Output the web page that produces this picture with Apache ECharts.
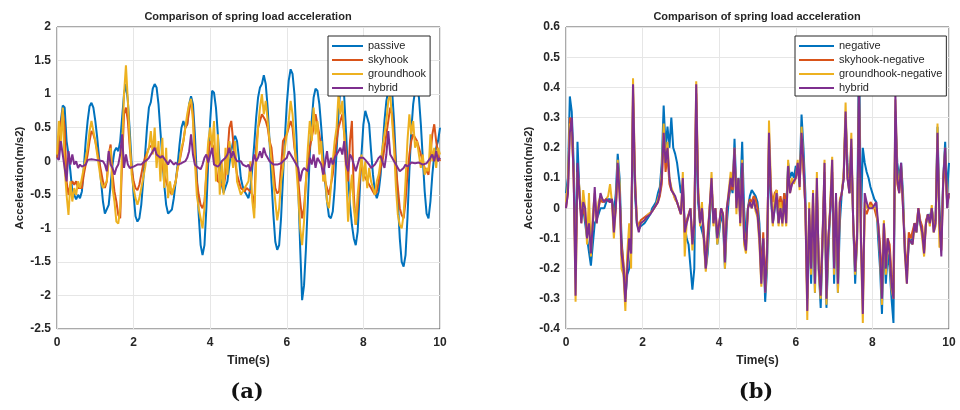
<!DOCTYPE html>
<html style="height: 100%; margin: 0;">
<head>
<meta charset="utf-8" />
<title>spring load acceleration</title>
<script src="https://cdn.jsdelivr.net/npm/echarts/dist/echarts.min.js"></script>
</head>
<body style="height: 100%; margin: 0; background: #fff;">
<div id="main" style="width: 960px; height: 410px;"></div>
<script type="text/javascript">
// sample step of the read-off curves (s), 0..10 s
var dt = 0.05;

// (a) left panel
var passive = [
  0.05,0.2,0.6,0.83,0.8,0.3,0.1,-0.15,-0.45,-0.5,-0.57,-0.5,-0.55,-0.45,-0.1,0.3,0.6,0.82,0.87,0.8,
  0.6,0.35,0.05,-0.3,-0.6,-0.78,-0.8,-0.65,-0.35,-0.05,0.15,0.2,0.15,0.3,0.65,1.0,1.15,0.9,0.45,-0.05,
  -0.5,-0.82,-0.9,-0.85,-0.65,-0.3,0.1,0.5,0.8,0.88,1.08,1.15,1.1,0.85,0.45,0.05,-0.35,-0.65,-0.78,-0.8,
  -0.72,-0.55,-0.3,-0.05,0.25,0.5,0.6,0.5,0.55,0.85,0.97,0.85,0.4,-0.2,-0.8,-1.25,-1.4,-1.25,-0.7,0.0,
  0.6,1.05,1.02,0.8,0.4,-0.05,-0.35,-0.47,-0.45,-0.3,-0.05,0.15,0.3,0.38,0.3,0.05,-0.25,-0.38,-0.45,-0.5,
  -0.55,-0.4,-0.1,0.25,0.65,0.95,1.1,1.15,1.28,1.15,0.8,0.3,-0.3,-0.8,-1.2,-1.32,-1.25,-0.85,-0.25,0.35,
  0.85,1.2,1.37,1.3,1.0,0.4,-0.4,-1.3,-2.07,-1.85,-1.3,-0.6,0.1,0.6,0.95,1.08,1.05,0.85,0.5,0.1,
  -0.3,-0.6,-0.82,-0.85,-0.75,-0.4,0.15,0.7,1.1,1.2,0.95,0.4,-0.2,-0.65,-0.95,-1.15,-1.25,-1.05,-0.5,0.1,
  0.55,0.75,0.77,0.55,0.15,-0.2,-0.45,-0.55,-0.45,-0.2,0.2,0.6,0.9,1.05,1.1,1.05,0.6,0.0,-0.6,-1.15,
  -1.5,-1.57,-1.4,-0.85,-0.15,0.45,0.85,1.05,1.1,0.95,0.55,0.05,-0.45,-0.78,-0.85,-0.6,-0.2,0.1,0.2,0.3,
  0.5
];
var skyhook = [
  0.05,0.2,0.55,0.75,0.5,-0.3,-0.5,-0.35,-0.3,-0.35,-0.3,-0.4,-0.38,-0.4,-0.2,-0.05,0.1,0.3,0.45,0.4,
  0.3,0.15,0.0,-0.15,-0.3,-0.4,-0.3,0.1,0.25,-0.2,-0.45,-0.6,-0.8,-0.85,0.0,0.7,0.8,0.6,0.2,-0.1,
  -0.3,-0.4,-0.43,-0.35,-0.2,-0.05,0.05,0.12,0.2,0.22,0.25,0.22,0.2,0.12,0.05,-0.05,-0.2,-0.3,-0.4,-0.45,
  -0.5,-0.4,-0.3,-0.1,0.0,0.15,0.3,0.5,0.55,0.75,0.9,0.7,0.1,-0.3,-0.5,-0.65,-0.7,-0.6,-0.2,0.1,
  0.3,0.25,0.2,-0.1,-0.3,-0.32,-0.35,-0.4,-0.2,0.1,0.5,0.6,0.3,0.0,-0.2,-0.3,-0.4,-0.42,-0.45,-0.4,
  -0.4,-0.45,-0.5,-0.7,0.2,0.5,0.6,0.7,0.65,0.6,0.5,0.3,0.2,-0.1,-0.4,-0.48,-0.45,-0.1,0.3,0.35,
  0.4,0.5,0.6,0.5,0.2,0.0,-0.3,-0.6,-0.85,-0.7,-0.3,0.0,0.2,0.35,0.5,0.7,0.55,0.4,0.2,-0.05,
  -0.3,-0.4,-0.5,-0.35,-0.2,0.1,0.3,0.5,0.6,0.7,0.4,0.1,-0.3,0.3,0.6,-0.5,-0.95,-0.7,-0.3,0.0,
  -0.2,-0.25,-0.3,-0.35,-0.4,-0.45,-0.5,-0.45,-0.3,-0.1,0.0,0.2,0.4,0.6,0.8,0.7,0.3,-0.1,-0.4,-0.7,
  -0.8,-0.85,-0.6,-0.2,0.1,0.3,0.4,0.35,0.3,0.2,0.1,0.0,-0.1,-0.15,-0.2,0.1,0.4,0.55,0.3,0.1,
  0.0
];
var groundhook = [
  0.1,0.6,0.3,0.8,-0.1,-0.5,-0.8,-0.3,-0.6,-0.4,-0.5,-0.3,-0.4,-0.25,-0.1,0.05,0.2,0.45,0.6,0.45,
  0.3,0.1,-0.1,-0.3,-0.4,-0.35,-0.3,0.0,0.2,-0.4,-0.6,-0.9,-0.93,-0.7,0.2,1.0,1.43,0.9,0.3,-0.2,
  -0.4,-0.55,-0.65,-0.55,-0.4,-0.25,-0.1,0.1,0.2,0.45,0.1,0.5,-0.1,0.3,-0.3,0.35,-0.4,0.2,-0.55,-0.3,
  -0.5,-0.4,-0.3,-0.1,0.0,0.2,0.3,0.5,0.7,0.85,0.93,0.6,0.0,-0.5,-0.7,-0.85,-1.0,-0.7,-0.1,0.3,
  0.5,0.2,0.6,-0.3,0.4,-0.5,0.0,-0.5,0.2,-0.2,0.3,0.1,-0.1,0.3,-0.3,-0.4,-0.5,-0.45,-0.4,-0.35,
  -0.3,0.0,-0.6,-0.85,0.0,0.5,0.8,1.0,0.7,0.9,0.6,0.3,0.0,-0.3,-0.6,-0.88,-0.7,-0.3,-0.1,0.2,
  0.4,0.6,0.9,0.7,0.3,-0.1,-0.5,-1.0,-1.25,-0.9,-0.3,0.2,0.6,0.3,0.8,0.4,0.6,0.1,0.3,-0.3,
  -0.2,-0.6,-0.7,-0.4,0.0,0.3,0.5,1.0,0.7,0.9,0.4,-0.2,-0.9,-0.5,-0.2,-0.7,-0.95,-0.5,-0.2,0.1,
  -0.3,0.0,-0.4,-0.1,-0.3,-0.4,-0.5,-0.3,-0.2,0.0,0.2,0.4,0.6,0.9,1.0,0.6,0.2,-0.4,-0.8,-0.95,
  -1.0,-0.8,-0.3,0.3,0.7,0.4,0.6,0.2,0.3,0.1,-0.1,0.1,-0.2,-0.1,-0.15,0.4,0.0,0.2,-0.1,0.2,
  0.1
];
var hybridA = [
  0.05,0.02,0.3,0.1,-0.1,-0.3,0.15,-0.05,0.1,-0.05,0.0,-0.1,-0.05,-0.08,-0.1,-0.05,0.02,0.0,0.03,0.02,
  0.02,0.03,0.01,0.03,0.0,-0.05,-0.15,0.15,-0.05,-0.1,-0.2,-0.1,-0.05,0.1,0.4,-0.1,0.1,-0.05,-0.1,-0.08,
  -0.08,-0.06,-0.05,-0.04,-0.05,-0.02,0.0,0.02,0.05,0.1,0.15,0.2,0.1,0.12,0.05,0.08,0.1,0.0,-0.05,0.02,
  0.0,-0.05,-0.02,-0.05,-0.05,-0.03,-0.02,0.0,0.05,0.15,0.4,0.1,-0.05,-0.08,-0.1,-0.12,-0.05,0.05,0.1,-0.02,
  0.0,0.2,-0.05,-0.03,-0.08,-0.05,0.0,0.02,0.05,0.1,0.2,0.05,0.15,0.05,0.0,-0.02,0.0,-0.05,-0.05,-0.08,
  -0.05,-0.15,-0.05,0.1,0.0,0.05,0.15,0.05,0.2,0.1,0.05,0.0,-0.02,-0.05,-0.03,-0.05,-0.05,-0.03,0.0,0.02,
  0.05,0.15,0.1,0.05,0.05,-0.05,-0.1,-0.3,-0.15,-0.1,-0.1,-0.15,0.05,-0.05,0.1,-0.1,0.05,0.0,-0.05,-0.2,
  -0.2,0.15,-0.1,0.05,-0.05,0.05,0.1,0.15,0.2,0.1,0.3,-0.05,-0.15,0.1,0.05,-0.05,-0.15,-0.05,0.05,0.03,
  0.05,0.02,0.0,-0.05,-0.1,-0.08,-0.05,0.0,0.05,0.08,0.1,-0.1,0.1,0.45,0.1,0.05,0.0,-0.05,-0.1,-0.15,
  -0.15,-0.1,-0.05,-0.08,-0.05,-0.02,0.0,-0.03,-0.05,-0.02,0.0,-0.05,-0.05,-0.03,-0.02,0.05,0.1,0.0,0.15,0.0,
  0.05
];

// (b) right panel
var negative = [
  0.05,0.1,0.37,0.32,0.15,-0.2,0.22,0.05,-0.02,0.0,-0.05,-0.1,-0.1,-0.19,-0.12,-0.05,-0.05,-0.02,0.0,0.0,
  0.0,0.02,0.03,0.03,0.03,-0.02,0.05,0.18,0.1,-0.1,-0.2,-0.3,-0.22,-0.2,-0.15,0.35,0.05,-0.05,-0.07,-0.06,
  -0.06,-0.05,-0.04,-0.03,-0.02,0.0,0.01,0.02,0.05,0.07,0.15,0.34,0.2,0.27,0.2,0.3,0.2,0.18,0.15,0.1,
  0.05,0.08,-0.05,-0.1,-0.12,-0.12,-0.27,-0.2,0.35,0.02,-0.05,-0.05,-0.1,-0.2,-0.15,-0.05,0.08,-0.05,-0.02,-0.12,
  -0.08,-0.02,-0.05,-0.2,-0.05,0.03,0.08,0.05,0.23,0.05,0.1,0.05,0.22,0.0,-0.1,0.0,0.04,0.06,0.05,0.04,
  0.02,-0.05,-0.2,-0.1,-0.31,-0.2,0.2,0.03,-0.05,0.0,0.03,-0.05,0.0,-0.03,0.05,0.0,0.15,0.1,0.12,0.1,
  0.14,0.12,0.1,0.31,0.2,0.05,-0.3,-0.05,-0.25,0.0,-0.28,0.05,-0.2,-0.33,-0.1,0.1,-0.33,-0.15,0.0,0.1,
  -0.25,0.0,-0.28,-0.05,0.05,0.1,0.3,0.15,0.05,0.2,-0.05,-0.25,-0.1,0.57,-0.05,0.2,0.15,0.12,0.1,0.07,
  0.05,0.03,0.02,-0.1,-0.2,-0.35,-0.1,-0.25,-0.15,-0.2,-0.3,-0.38,0.3,0.15,0.1,0.15,0.05,-0.15,-0.2,-0.12,
  -0.12,-0.1,-0.05,-0.08,-0.02,-0.05,-0.08,-0.12,-0.05,-0.02,-0.03,0.0,-0.05,-0.04,0.27,0.0,-0.1,0.1,0.22,0.05,
  0.15
];
var skyhookNeg = [
  0.0,0.05,0.3,0.28,0.1,-0.2,0.1,0.05,-0.03,0.0,-0.03,-0.08,-0.06,-0.12,-0.05,0.03,-0.03,0.0,0.03,0.02,
  0.02,0.03,0.03,0.02,0.03,-0.05,0.0,0.12,0.05,-0.12,-0.18,-0.28,-0.18,-0.1,-0.12,0.38,0.08,-0.04,-0.06,-0.04,
  -0.04,-0.03,-0.03,-0.02,-0.02,-0.01,0.0,0.01,0.02,0.04,0.08,0.25,0.12,0.18,0.08,0.06,0.05,0.03,0.02,0.0,
  -0.02,0.06,-0.06,-0.04,-0.04,0.0,-0.1,-0.05,0.38,0.05,-0.04,0.0,-0.08,-0.18,-0.08,0.0,0.08,-0.04,0.0,-0.08,
  -0.05,0.0,-0.02,-0.16,0.0,0.04,0.08,0.06,0.18,0.02,0.08,-0.03,0.12,-0.08,-0.12,0.0,0.03,0.02,0.04,0.03,
  0.0,-0.08,-0.22,-0.08,-0.26,-0.12,0.22,0.06,0.02,0.05,0.06,0.0,0.04,0.0,0.05,0.0,0.12,0.06,0.08,0.08,
  0.1,0.14,0.08,0.22,0.12,0.0,-0.3,-0.02,-0.18,0.02,-0.2,0.06,-0.18,-0.25,-0.08,0.12,-0.26,-0.1,0.0,0.12,
  -0.18,0.03,-0.22,0.02,0.05,0.1,0.3,0.1,0.05,0.2,-0.05,-0.18,-0.08,0.35,-0.08,-0.3,0.0,-0.02,0.0,0.02,
  0.01,0.0,0.0,-0.05,-0.12,-0.25,-0.05,-0.18,-0.1,-0.12,-0.22,-0.28,0.32,0.08,0.05,0.12,0.0,-0.12,-0.22,-0.08,
  -0.1,-0.1,-0.05,-0.06,0.0,-0.04,-0.06,-0.14,-0.04,-0.02,-0.04,0.0,-0.06,-0.04,0.22,-0.04,-0.14,0.08,0.15,0.02,
  0.04
];
var groundhookNeg = [
  0.02,0.08,0.28,0.25,0.12,-0.31,0.12,0.07,-0.05,0.06,0.0,-0.12,0.05,-0.16,-0.02,0.05,-0.05,0.02,0.04,0.03,
  0.02,0.03,0.04,0.08,0.02,-0.1,0.0,0.16,0.08,-0.2,-0.22,-0.34,-0.15,-0.05,-0.2,0.43,0.12,-0.04,-0.07,-0.05,
  -0.05,-0.04,-0.03,-0.02,-0.02,-0.01,0.0,0.01,0.03,0.05,0.12,0.28,0.15,0.22,0.1,0.07,0.05,0.03,0.02,0.0,
  -0.02,0.12,-0.16,-0.05,-0.05,0.0,-0.14,-0.05,0.42,0.08,-0.06,0.02,-0.12,-0.21,-0.12,0.0,0.12,-0.06,0.0,-0.12,
  -0.06,0.0,-0.02,-0.2,0.0,0.06,0.12,0.08,0.2,-0.02,0.1,-0.06,0.16,-0.12,-0.15,0.0,0.02,0.0,0.03,-0.01,
  -0.03,-0.12,-0.26,-0.12,-0.28,-0.18,0.29,0.08,-0.06,0.04,0.06,-0.06,0.02,-0.06,0.03,-0.06,0.16,0.05,0.1,0.08,
  0.1,0.16,0.06,0.27,0.15,0.0,-0.37,0.02,-0.22,0.06,-0.28,0.12,-0.22,-0.3,-0.12,0.16,-0.32,-0.12,0.02,0.17,
  -0.22,0.04,-0.28,0.03,0.05,0.12,0.35,0.12,0.06,0.25,-0.06,-0.22,-0.12,0.4,-0.12,-0.38,0.02,0.0,0.0,0.01,
  0.0,0.0,0.0,-0.06,-0.16,-0.32,-0.04,-0.22,-0.12,-0.15,-0.27,-0.3,0.36,0.12,0.06,0.14,0.02,-0.16,-0.25,-0.1,
  -0.1,-0.12,-0.06,-0.08,0.0,-0.05,-0.1,-0.16,-0.05,-0.02,-0.06,0.01,-0.08,-0.06,0.28,-0.13,-0.12,0.1,0.2,0.02,
  0.05
];
var hybridB = [
  0.0,0.05,0.25,0.3,0.1,-0.29,0.15,0.05,-0.05,0.02,0.0,-0.1,-0.05,-0.15,-0.05,0.07,-0.05,0.0,0.05,0.03,
  0.02,0.03,0.03,0.02,0.03,-0.08,0.0,0.15,0.05,-0.15,-0.2,-0.31,-0.2,-0.1,-0.15,0.41,0.1,-0.05,-0.08,-0.05,
  -0.05,-0.04,-0.03,-0.03,-0.02,-0.01,0.0,0.01,0.02,0.05,0.1,0.25,0.15,0.2,0.1,0.06,0.05,0.04,0.02,0.0,
  -0.02,0.1,-0.08,-0.05,-0.05,0.0,-0.12,-0.05,0.41,0.05,-0.05,0.0,-0.1,-0.2,-0.1,0.0,0.1,-0.05,0.0,-0.1,
  -0.05,0.0,-0.02,-0.18,0.0,0.05,0.1,0.07,0.2,0.0,0.1,-0.05,0.15,-0.1,-0.14,0.0,0.02,0.0,0.03,0.0,
  -0.02,-0.1,-0.25,-0.1,-0.28,-0.15,0.25,0.05,-0.05,0.0,0.05,-0.05,0.0,-0.05,0.03,-0.05,0.14,0.05,0.08,0.08,
  0.1,0.15,0.07,0.25,0.15,0.0,-0.34,0.0,-0.2,0.05,-0.25,0.1,-0.2,-0.29,-0.1,0.15,-0.3,-0.1,0.0,0.16,
  -0.2,0.05,-0.25,0.02,0.05,0.1,0.32,0.1,0.05,0.23,-0.05,-0.21,-0.1,0.42,-0.1,-0.35,0.05,0.02,0.0,0.0,
  0.0,0.0,0.02,-0.05,-0.15,-0.3,-0.05,-0.2,-0.1,-0.15,-0.25,-0.3,0.38,0.1,0.05,0.15,0.0,-0.15,-0.25,-0.1,
  -0.1,-0.12,-0.05,-0.08,0.0,-0.05,-0.08,-0.15,-0.05,-0.02,-0.05,0.0,-0.08,-0.05,0.25,-0.05,-0.16,0.1,0.2,0.0,
  0.05
];

var namesA = ['passive', 'skyhook', 'groundhook', 'hybrid'];
var namesB = ['negative', 'skyhook-negative', 'groundhook-negative', 'hybrid'];
var colors = ['#0072BD', '#D95319', '#EDB120', '#7E2F8E'];

function toPoints(vals) {
  var out = [];
  for (var i = 0; i < vals.length; i++) out.push([+(i * dt).toFixed(2), vals[i]]);
  return out;
}

var txt = '#262626';
var labelFont = { color: txt, fontSize: 12, fontWeight: 'bold', fontFamily: 'Liberation Sans, Arial' };

function xAx(gi) {
  return {
    type: 'value', gridIndex: gi, min: 0, max: 10, interval: 2,
    name: 'Time(s)', nameLocation: 'middle', nameGap: 26,
    nameTextStyle: { color: txt, fontSize: 12, fontWeight: 'bold', fontFamily: 'Liberation Sans, Arial' },
    axisLine: { show: false }, axisTick: { show: false },
    axisLabel: Object.assign({ margin: 8 }, labelFont),
    splitLine: { lineStyle: { color: '#e6e6e6' } }
  };
}
function yAx(gi, mn, mx, step) {
  return {
    type: 'value', gridIndex: gi, min: mn, max: mx, interval: step,
    name: 'Acceleration(m/s2)', nameLocation: 'middle', nameGap: 31,
    nameTextStyle: { color: txt, fontSize: 11.5, fontWeight: 'bold', fontFamily: 'Liberation Sans, Arial' },
    axisLine: { show: false }, axisTick: { show: false },
    axisLabel: Object.assign({ margin: 6 }, labelFont),
    splitLine: { lineStyle: { color: '#e6e6e6' } }
  };
}
function legendBox(x, names, iw) {
  return {
    orient: 'vertical', left: x, top: 36, data: names,
    icon: 'rect', itemWidth: iw, itemHeight: 2, itemGap: 0,
    padding: [3, 4, 1, 4],
    borderColor: '#262626', borderWidth: 1, backgroundColor: '#fff',
    textStyle: { color: txt, fontSize: 11, lineHeight: 14, fontFamily: 'Liberation Sans, Arial' }
  };
}

var seriesA = [passive, skyhook, groundhook, hybridA];
var seriesB = [negative, skyhookNeg, groundhookNeg, hybridB];
var series = [];
seriesA.forEach(function (v, k) {
  series.push({ name: namesA[k], type: 'line', xAxisIndex: 0, yAxisIndex: 0, data: toPoints(v),
    showSymbol: false, lineStyle: { width: 2, color: colors[k] }, itemStyle: { color: colors[k] } });
});
seriesB.forEach(function (v, k) {
  series.push({ name: namesB[k], type: 'line', xAxisIndex: 1, yAxisIndex: 1, data: toPoints(v),
    showSymbol: false, lineStyle: { width: 2, color: colors[k] }, itemStyle: { color: colors[k] } });
});

var myChart = echarts.init(document.getElementById('main'));
myChart.setOption({
  animation: false,
  backgroundColor: '#fff',
  grid: [
    { left: 57, top: 27, width: 383, height: 302, show: true, borderColor: '#555', borderWidth: 1, backgroundColor: 'transparent' },
    { left: 566, top: 27, width: 383, height: 302, show: true, borderColor: '#555', borderWidth: 1, backgroundColor: 'transparent' }
  ],
  xAxis: [xAx(0), xAx(1)],
  yAxis: [yAx(0, -2.5, 2, 0.5), yAx(1, -0.4, 0.6, 0.1)],
  legend: [legendBox(328, namesA, 31), legendBox(795, namesB, 35)],
  series: series,
  graphic: [
    { type: 'text', x: 248, y: 17, style: { text: 'Comparison of spring load acceleration', fill: txt, font: 'bold 11px Liberation Sans, Arial', textAlign: 'center', textVerticalAlign: 'middle' } },
    { type: 'text', x: 757, y: 17, style: { text: 'Comparison of spring load acceleration', fill: txt, font: 'bold 11px Liberation Sans, Arial', textAlign: 'center', textVerticalAlign: 'middle' } },
    { type: 'text', x: 247, y: 393, style: { text: '(a)', fill: '#111', font: 'bold 21px DejaVu Serif', textAlign: 'center', textVerticalAlign: 'middle' } },
    { type: 'text', x: 756, y: 393, style: { text: '(b)', fill: '#111', font: 'bold 21px DejaVu Serif', textAlign: 'center', textVerticalAlign: 'middle' } }
  ]
});
window.onresize = myChart.resize;
</script>
</body>
</html>
